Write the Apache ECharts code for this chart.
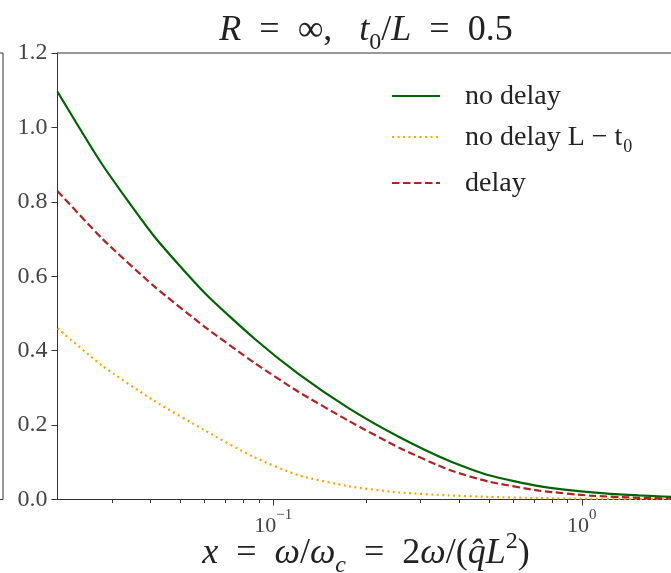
<!DOCTYPE html>
<html>
<head>
<meta charset="utf-8">
<script src="https://cdn.jsdelivr.net/npm/echarts@6/dist/echarts.min.js"></script>
<style>
  html, body { margin: 0; padding: 0; background: #fff; }
  #main { width: 671px; height: 573px; }
</style>
</head>
<body>
<div id="main"></div>
<script>
// values (log x axis)
const xValues = [0.02, 0.028, 0.041, 0.06, 0.087, 0.121, 0.176, 0.256, 0.371, 0.5, 0.727, 1.06, 1.53, 2.2, 3];
const noDelay = [1.096, 0.899, 0.709, 0.555, 0.432, 0.337, 0.245, 0.168, 0.104, 0.065, 0.036, 0.020, 0.011, 0.0056, 0.003];
const noDelayShift = [0.46, 0.359, 0.266, 0.186, 0.113, 0.065, 0.0355, 0.019, 0.011, 0.007, 0.004, 0.002, 0.001, 0.0005, 0.0002];
const delay = [0.829, 0.700, 0.574, 0.464, 0.367, 0.289, 0.211, 0.139, 0.080, 0.048, 0.024, 0.0105, 0.0046, 0.002, 0.001];

const majorTicks = [0.1, 1];
const minorTicks = [0.03, 0.04, 0.05, 0.06, 0.07, 0.08, 0.09, 0.2, 0.3, 0.4, 0.5, 0.6, 0.7, 0.8, 0.9, 2, 3];
const seriesNames = ['no delay', 'no delay L − t0', 'delay'];

const serif = '"Liberation Serif", "DejaVu Serif", serif';
const axisColor = '#333';
const sp = '\u2002'; // wider math-like spacing around "="

const chart = echarts.init(document.getElementById('main'), null, { renderer: 'canvas' });

function pairs(ys) {
  return xValues.map((x, i) => [x, ys[i]]);
}

function legendAt(top, name, formatter) {
  return {
    left: 386, top: top, orient: 'vertical',
    data: [name], itemWidth: 48, itemHeight: 14,
    selectedMode: false,
    formatter: formatter,
    itemStyle: { opacity: 0, borderWidth: 0 },
    textStyle: {
      fontFamily: serif, fontSize: 28, color: '#222', padding: [0, 0, 0, 20],
      rich: {
        n: { fontFamily: serif, fontSize: 28, color: '#222', lineHeight: 30, verticalAlign: 'bottom' },
        sub: { fontFamily: serif, fontSize: 18, color: '#222', lineHeight: 30, verticalAlign: 'bottom', padding: [0, 0, -4, 1] }
      }
    }
  };
}

const option = {
  animation: false,
  grid: [
    { left: 57.5, top: 53, bottom: 73.5, right: -58, show: true, borderColor: axisColor, borderWidth: 1, outerBoundsMode: 'none', containLabel: false },
    { left: -300, top: 53, bottom: 73.5, width: 303, show: true, borderColor: axisColor, borderWidth: 1, outerBoundsMode: 'none', containLabel: false }
  ],
  xAxis: [
    {
      type: 'log', gridIndex: 0, min: 0.02, max: 3, logBase: 10,
      axisLine: { show: true, lineStyle: { color: axisColor, width: 1 } },
      axisTick: { show: true, customValues: majorTicks, length: 6, lineStyle: { color: axisColor } },
      splitLine: { show: false },
      axisLabel: {
        customValues: majorTicks, margin: 8,
        formatter: v => {
          const e = Math.round(Math.log10(v));
          return '{b|10}{s|' + (e < 0 ? '−' + Math.abs(e) : e) + '}';
        },
        rich: {
          b: { fontFamily: serif, fontSize: 22, color: '#444', lineHeight: 30, verticalAlign: 'bottom' },
          s: { fontFamily: serif, fontSize: 15, color: '#444', lineHeight: 30, verticalAlign: 'top' }
        }
      }
    },
    {
      type: 'log', gridIndex: 0, min: 0.02, max: 3, logBase: 10, position: 'bottom',
      axisLine: { show: false },
      axisTick: { show: true, customValues: minorTicks, length: 3.5, lineStyle: { color: axisColor } },
      axisLabel: { show: false },
      splitLine: { show: false }
    },
    { type: 'value', gridIndex: 1, min: 0, max: 1, show: false }
  ],
  yAxis: [
    {
      type: 'value', gridIndex: 0, min: 0, max: 1.2, interval: 0.2,
      axisLine: { show: true, lineStyle: { color: axisColor, width: 1 } },
      axisTick: { show: true, length: 6, lineStyle: { color: axisColor } },
      splitLine: { show: false },
      axisLabel: {
        fontFamily: serif, fontSize: 24, color: '#444', margin: 10,
        formatter: v => v.toFixed(1)
      }
    },
    { type: 'value', gridIndex: 1, min: 0, max: 1.2, show: false }
  ],
  legend: [
    legendAt(78, seriesNames[0], '{n|no delay}'),
    legendAt(119, seriesNames[1], '{n|no delay L − t}{sub|0}'),
    legendAt(165, seriesNames[2], '{n|delay}')
  ],
  graphic: [
    {
      type: 'text', x: 366, y: 29,
      style: {
        text: '{i|R}{n|' + sp + '=' + sp + '∞,' + sp + ' }{i|t}{sub|0}{n|/}{i|L}{n|' + sp + '=' + sp + '0.5}',
        align: 'center', verticalAlign: 'middle',
        rich: {
          i: { fontFamily: serif, fontStyle: 'italic', fontSize: 36, fill: '#222', lineHeight: 40, verticalAlign: 'bottom' },
          n: { fontFamily: serif, fontSize: 36, fill: '#222', lineHeight: 40, verticalAlign: 'bottom' },
          sub: { fontFamily: serif, fontSize: 24, fill: '#222', lineHeight: 40, verticalAlign: 'bottom', padding: [0, 0, -6, 0] }
        }
      }
    },
    {
      type: 'text', x: 366, y: 551,
      style: {
        text: '{i|x}{n|' + sp + '=' + sp + '}{i|ω}{n|/}{i|ω}{sub|c}{n|' + sp + '=' + sp + '2}{i|ω}{n|/(}{i|q̂L}{sup|2}{n|)}',
        align: 'center', verticalAlign: 'middle',
        rich: {
          i: { fontFamily: serif, fontStyle: 'italic', fontSize: 36, fill: '#222', lineHeight: 42, verticalAlign: 'bottom' },
          n: { fontFamily: serif, fontSize: 36, fill: '#222', lineHeight: 42, verticalAlign: 'bottom' },
          sub: { fontFamily: serif, fontStyle: 'italic', fontSize: 24, fill: '#222', lineHeight: 42, verticalAlign: 'bottom', padding: [0, 0, -6, 0] },
          sup: { fontFamily: serif, fontSize: 24, fill: '#222', lineHeight: 42, verticalAlign: 'top' }
        }
      }
    }
  ],
  series: [
    {
      name: seriesNames[0], type: 'line', xAxisIndex: 0, yAxisIndex: 0,
      data: pairs(noDelay), smooth: 0.2, showSymbol: false, symbol: 'none',
      lineStyle: { color: '#006400', width: 2.2, type: 'solid' },
      itemStyle: { color: '#006400' }, z: 3
    },
    {
      name: seriesNames[1], type: 'line', xAxisIndex: 0, yAxisIndex: 0,
      data: pairs(noDelayShift), smooth: 0.2, showSymbol: false, symbol: 'none',
      lineStyle: { color: '#FFA500', width: 2.2, type: [2, 3.5] },
      itemStyle: { color: '#FFA500' }, z: 2
    },
    {
      name: seriesNames[2], type: 'line', xAxisIndex: 0, yAxisIndex: 0,
      data: pairs(delay), smooth: 0.2, showSymbol: false, symbol: 'none',
      lineStyle: { color: '#B22222', width: 2.2, type: [7.5, 3.5] },
      itemStyle: { color: '#B22222' }, z: 2
    }
  ]
};

chart.setOption(option);
</script>
</body>
</html>
